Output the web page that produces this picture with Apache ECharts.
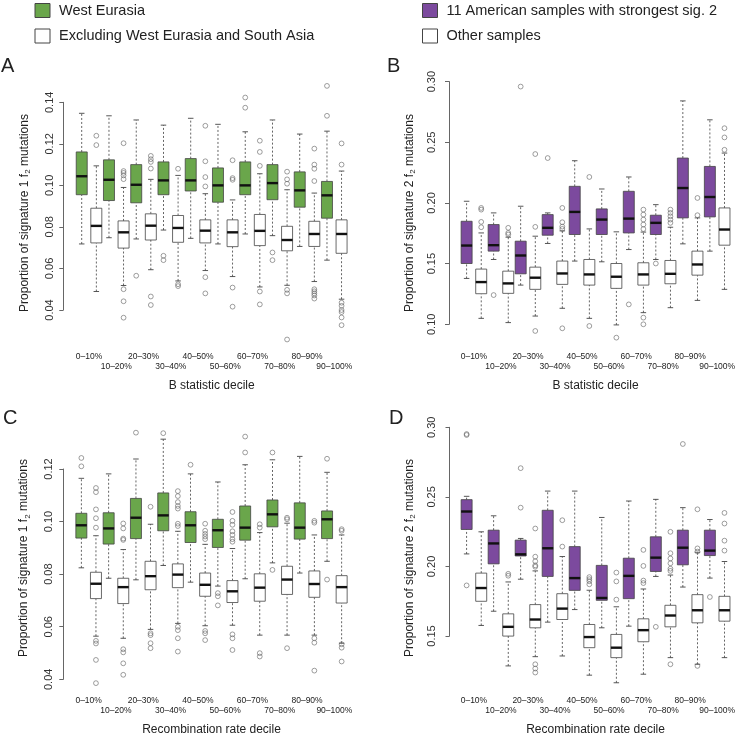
<!DOCTYPE html>
<html>
<head>
<meta charset="utf-8">
<script src="https://cdn.jsdelivr.net/npm/echarts@6/dist/echarts.min.js"></script>
<style>
  html, body { margin: 0; padding: 0; background: #fff; }
  #chart { width: 738px; height: 737px; }
</style>
</head>
<body>
<div id="chart"></div>
<script>
const deciles = ["0–10%", "10–20%", "20–30%", "30–40%", "40–50%", "50–60%", "60–70%", "70–80%", "80–90%", "90–100%"];

// each box: [lower whisker, Q1, median, Q3, upper whisker]
// A: signature 1, B statistic decile
const aGreenStats = [
  [0.0718, 0.0955, 0.1044, 0.1161, 0.1347], [0.0748, 0.0927, 0.1027, 0.1123, 0.1335],
  [0.0742, 0.0916, 0.1003, 0.1100, 0.1315], [0.0785, 0.0955, 0.1024, 0.1113, 0.1290],
  [0.0745, 0.0973, 0.1024, 0.1129, 0.1323], [0.0718, 0.0919, 0.1000, 0.1084, 0.1294],
  [0.0766, 0.0955, 0.1000, 0.1113, 0.1258], [0.0758, 0.0931, 0.1011, 0.1100, 0.1315],
  [0.0706, 0.0895, 0.0976, 0.1065, 0.1247], [0.0640, 0.0842, 0.0952, 0.1019, 0.1261]
];
const aGreenOut = [[], [], [0.0565], [0.0661, 0.0640], [], [], [0.1423, 0.1374], [0.0677, 0.0640], [], [0.1479, 0.1335]];
const aWhiteStats = [
  [0.0489, 0.0723, 0.0805, 0.0890, 0.1094], [0.0518, 0.0698, 0.0774, 0.0829, 0.0990],
  [0.0594, 0.0737, 0.0806, 0.0863, 0.1029], [0.0540, 0.0726, 0.0795, 0.0855, 0.1048],
  [0.0590, 0.0723, 0.0782, 0.0834, 0.0960], [0.0561, 0.0705, 0.0774, 0.0834, 0.0930],
  [0.0511, 0.0710, 0.0781, 0.0860, 0.1056], [0.0519, 0.0685, 0.0737, 0.0803, 0.0979],
  [0.0537, 0.0706, 0.0766, 0.0827, 0.0963], [0.0452, 0.0673, 0.0766, 0.0834, 0.1069]
];
const aWhiteOut = [
  [0.1239, 0.1194],
  [0.1203, 0.1069, 0.1060, 0.1048, 0.1030, 0.0500, 0.0442, 0.0363],
  [0.1142, 0.1126, 0.1113, 0.1081, 0.0465, 0.0424],
  [0.1080, 0.0524, 0.0515],
  [0.1287, 0.1116, 0.1040, 0.0995, 0.0558, 0.0480],
  [0.1121, 0.1035, 0.1027, 0.0508, 0.0416],
  [0.1215, 0.1161, 0.1094, 0.0489, 0.0427],
  [0.1066, 0.1029, 0.1008, 0.0497, 0.0480, 0.0258],
  [0.1177, 0.1100, 0.1080, 0.1021, 0.0500, 0.0490, 0.0480, 0.0470, 0.0455],
  [0.1202, 0.1100, 0.0435, 0.0420, 0.0400, 0.0390, 0.0364, 0.0327]
];

// B: signature 2, B statistic decile
const bPurpleStats = [
  [0.1378, 0.1501, 0.1649, 0.1849, 0.2014], [0.1534, 0.1603, 0.1652, 0.1822, 0.1918],
  [0.1323, 0.1416, 0.1567, 0.1685, 0.1973], [0.1666, 0.1734, 0.1795, 0.1904, 0.1918],
  [0.1521, 0.1740, 0.1926, 0.2137, 0.2348], [0.1515, 0.1740, 0.1863, 0.1951, 0.2115],
  [0.1616, 0.1753, 0.1871, 0.2096, 0.2214], [0.1534, 0.1740, 0.1836, 0.1899, 0.1986],
  [0.1663, 0.1877, 0.2123, 0.2370, 0.2841], [0.1603, 0.1885, 0.2049, 0.2301, 0.2685]
];
const bPurpleOut = [[], [0.1241], [0.2959], [0.2370], [], [], [0.1164], [0.1501], [], []];
const bWhiteStats = [
  [0.1049, 0.1252, 0.1348, 0.1455, 0.1753], [0.1014, 0.1255, 0.1337, 0.1438, 0.1718],
  [0.1068, 0.1288, 0.1384, 0.1471, 0.1726], [0.1132, 0.1329, 0.1419, 0.1521, 0.1770],
  [0.1049, 0.1323, 0.1411, 0.1534, 0.1786], [0.0995, 0.1296, 0.1392, 0.1501, 0.1762],
  [0.1096, 0.1323, 0.1411, 0.1507, 0.1760], [0.1137, 0.1334, 0.1416, 0.1526, 0.1800],
  [0.1197, 0.1405, 0.1493, 0.1603, 0.1877], [0.1288, 0.1652, 0.1781, 0.1959, 0.2411]
];
const bWhiteOut = [
  [0.1959, 0.1945, 0.1844, 0.1800],
  [0.1795, 0.1753, 0.1740],
  [0.2403, 0.1803, 0.0945],
  [0.1959, 0.1841, 0.1805, 0.1786, 0.0967],
  [0.2214, 0.0986],
  [0.0890],
  [0.1945, 0.1904, 0.1863, 0.1822, 0.1785, 0.1055, 0.1000],
  [0.1945, 0.1918, 0.1890, 0.1863, 0.1836],
  [0.2041, 0.1899],
  [0.2616, 0.2540, 0.2438]
];

// C: signature 1, recombination rate decile
const cGreenStats = [
  [0.0820, 0.0934, 0.0983, 0.1029, 0.1163], [0.0780, 0.0911, 0.0971, 0.1031, 0.1180],
  [0.0774, 0.0932, 0.1012, 0.1086, 0.1237], [0.0829, 0.0962, 0.1021, 0.1107, 0.1313],
  [0.0765, 0.0917, 0.0983, 0.1035, 0.1180], [0.0750, 0.0898, 0.0964, 0.1006, 0.1149],
  [0.0778, 0.0926, 0.0974, 0.1057, 0.1215], [0.0839, 0.0977, 0.1025, 0.1080, 0.1234],
  [0.0800, 0.0930, 0.0974, 0.1069, 0.1247], [0.0845, 0.0932, 0.1006, 0.1038, 0.1186]
];
const cGreenOut = [[0.1241, 0.1209], [], [0.1338], [0.1336], [0.1215], [0.0723, 0.0711, 0.0676], [0.1323, 0.1262], [0.1262, 0.0812], [], [0.1238, 0.0775]];
const cWhiteStats = [
  [0.0558, 0.0702, 0.0759, 0.0803, 0.0943], [0.0550, 0.0683, 0.0746, 0.0780, 0.0890],
  [0.0584, 0.0736, 0.0788, 0.0845, 0.0987], [0.0607, 0.0744, 0.0794, 0.0835, 0.0960],
  [0.0598, 0.0711, 0.0755, 0.0800, 0.0910], [0.0600, 0.0687, 0.0730, 0.0771, 0.0894],
  [0.0562, 0.0692, 0.0744, 0.0797, 0.0955], [0.0562, 0.0718, 0.0775, 0.0826, 0.0991],
  [0.0562, 0.0707, 0.0758, 0.0808, 0.0946], [0.0531, 0.0685, 0.0746, 0.0790, 0.0946]
];
const cWhiteOut = [
  [0.1126, 0.1110, 0.1044, 0.1010, 0.0974, 0.0540, 0.0530, 0.0467, 0.0378],
  [0.0990, 0.0971, 0.0932, 0.0927, 0.0508, 0.0496, 0.0454, 0.0410],
  [0.1054, 0.0569, 0.0562, 0.0531, 0.0512],
  [0.1114, 0.1095, 0.1072, 0.1057, 0.1047, 0.0989, 0.0980, 0.0594, 0.0581, 0.0550, 0.0499],
  [0.0989, 0.0962, 0.0950, 0.0940, 0.0930, 0.0578, 0.0569, 0.0543],
  [0.1034, 0.1000, 0.0985, 0.0960, 0.0946, 0.0930, 0.0920, 0.0565, 0.0550, 0.0505],
  [0.0987, 0.0974, 0.0493, 0.0480],
  [0.1012, 0.1006, 0.0512],
  [0.1000, 0.0993, 0.0550, 0.0533, 0.0426],
  [0.0968, 0.0962, 0.0527, 0.0514, 0.0461]
];

// D: signature 2, recombination rate decile
const dPurpleStats = [
  [0.2083, 0.2260, 0.2390, 0.2476, 0.2500], [0.1668, 0.2011, 0.2159, 0.2255, 0.2359],
  [0.1900, 0.2068, 0.2080, 0.2183, 0.2195], [0.1589, 0.1920, 0.2124, 0.2399, 0.2538],
  [0.1680, 0.1819, 0.1908, 0.2136, 0.2538], [0.1548, 0.1747, 0.1764, 0.2000, 0.2347],
  [0.1560, 0.1759, 0.1924, 0.2052, 0.2466], [0.1920, 0.1956, 0.2056, 0.2207, 0.2478],
  [0.1843, 0.2004, 0.2128, 0.2255, 0.2418], [0.1908, 0.2071, 0.2107, 0.2255, 0.2332]
];
const dPurpleOut = [[0.2951, 0.2944, 0.1855], [], [0.2704, 0.2418], [], [], [], [], [0.1555], [0.2879], [0.1771]];
const dWhiteStats = [
  [0.1565, 0.1740, 0.1836, 0.1944, 0.2243], [0.1272, 0.1488, 0.1555, 0.1649, 0.1880],
  [0.1339, 0.1548, 0.1608, 0.1716, 0.1960], [0.1344, 0.1608, 0.1687, 0.1795, 0.2064],
  [0.1205, 0.1404, 0.1481, 0.1572, 0.1820], [0.1150, 0.1332, 0.1404, 0.1500, 0.1700],
  [0.1212, 0.1447, 0.1531, 0.1613, 0.1829], [0.1332, 0.1555, 0.1637, 0.1711, 0.1930],
  [0.1284, 0.1584, 0.1675, 0.1788, 0.2095], [0.1332, 0.1596, 0.1675, 0.1776, 0.2028]
];
const dWhiteOut = [
  [],
  [0.1939, 0.1925],
  [0.2267, 0.2063, 0.2030, 0.2000, 0.1990, 0.1284, 0.1253, 0.1224],
  [0.2327, 0.2136],
  [0.1915, 0.1900, 0.1885, 0.1863],
  [0.1948, 0.1884, 0.1752],
  [0.2112, 0.1996, 0.1890, 0.1872],
  [0.2243, 0.2088, 0.2050, 0.2015, 0.1976, 0.1960, 0.1284],
  [0.2406, 0.2123, 0.2100, 0.1272],
  [0.2380, 0.2303, 0.2179, 0.2107]
];

const WEST = "West Eurasia";
const EXCL = "Excluding West Eurasia and South Asia";
const AMER = "11 American samples with strongest sig. 2";
const OTHER = "Other samples";

const GREEN = "#6aa64b";
const PURPLE = "#7c4a9e";
const FONT = "Liberation Sans, Arial, sans-serif";

const panels = [
  { letter: "A", sig: 1, xTitle: "B statistic decile", stats: [aGreenStats, aWhiteStats], outs: [aGreenOut, aWhiteOut],
    names: [WEST, EXCL], fills: [GREEN, "#fff"], ticks: [0.04, 0.14, 0.02],
    lay: { axisX: 63.3, tickTop: 102.3, tickBottom: 310, left: 75.4, width: 272.5, top: 78, bottom: 348, margin: 8, lx: 1, ly: 56 } },
  { letter: "B", sig: 2, xTitle: "B statistic decile", stats: [bPurpleStats, bWhiteStats], outs: [bPurpleOut, bWhiteOut],
    names: [AMER, OTHER], fills: [PURPLE, "#fff"], ticks: [0.10, 0.30, 0.05],
    lay: { axisX: 449, tickTop: 81.6, tickBottom: 324.3, left: 460.4, width: 273, top: 78, bottom: 348, margin: 12, lx: 387, ly: 56 } },
  { letter: "C", sig: 1, xTitle: "Recombination rate decile", stats: [cGreenStats, cWhiteStats], outs: [cGreenOut, cWhiteOut],
    names: [WEST, EXCL], fills: [GREEN, "#fff"], ticks: [0.04, 0.12, 0.02],
    lay: { axisX: 63.3, tickTop: 469, tickBottom: 679.3, left: 75, width: 273, top: 424, bottom: 694, margin: 9, lx: 3, ly: 408 } },
  { letter: "D", sig: 2, xTitle: "Recombination rate decile", stats: [dPurpleStats, dWhiteStats], outs: [dPurpleOut, dWhiteOut],
    names: [AMER, OTHER], fills: [PURPLE, "#fff"], ticks: [0.15, 0.30, 0.05],
    lay: { axisX: 449.5, tickTop: 427.3, tickBottom: 636, left: 460.4, width: 273, top: 424, bottom: 694, margin: 12, lx: 389, ly: 408 } }
];

const BOX_W = 11;
const CAP_W = 5.5;
const OFFSETS = [-7.3, 7.3];

function renderBox(offset, fill) {
  return (params, api) => {
    const i = api.value(0);
    const p = [1, 2, 3, 4, 5].map(k => api.coord([i, api.value(k)]));
    const x = p[0][0] + offset;
    const dash = { stroke: "#555", lineWidth: 0.9, lineDash: [2, 2] };
    const solid = { stroke: "#444", lineWidth: 0.9 };
    return {
      type: "group",
      children: [
        { type: "line", shape: { x1: x, y1: p[0][1], x2: x, y2: p[1][1] }, style: dash },
        { type: "line", shape: { x1: x, y1: p[3][1], x2: x, y2: p[4][1] }, style: dash },
        { type: "line", shape: { x1: x - CAP_W / 2, y1: p[0][1], x2: x + CAP_W / 2, y2: p[0][1] }, style: solid },
        { type: "line", shape: { x1: x - CAP_W / 2, y1: p[4][1], x2: x + CAP_W / 2, y2: p[4][1] }, style: solid },
        { type: "rect", shape: { x: x - BOX_W / 2, y: p[3][1], width: BOX_W, height: p[1][1] - p[3][1] },
          style: { fill, stroke: "#444", lineWidth: 0.8 } },
        { type: "line", shape: { x1: x - BOX_W / 2, y1: p[2][1], x2: x + BOX_W / 2, y2: p[2][1] },
          style: { stroke: "#111", lineWidth: 2.4 } }
      ]
    };
  };
}

const grid = [], xAxis = [], yAxis = [], series = [], title = [];

panels.forEach((pn, k) => {
  const L = pn.lay;
  const [tMin, tMax, step] = pn.ticks;
  const ppu = (L.tickBottom - L.tickTop) / (tMax - tMin);
  const dataMin = tMin - (L.bottom - L.tickBottom) / ppu;
  const dataMax = tMax + (L.tickTop - L.top) / ppu;
  const ai = 2 * k, di = 2 * k + 1;

  // visible R-style y axis, spanning only the tick range
  grid.push({ left: L.axisX, top: L.tickTop, width: 10, height: L.tickBottom - L.tickTop });
  xAxis.push({ gridIndex: ai, type: "value", show: false });
  yAxis.push({
    gridIndex: ai, type: "value", min: tMin, max: tMax, interval: step,
    axisLine: { show: true, lineStyle: { color: "#666", width: 1 } },
    axisTick: { show: true, length: 4, lineStyle: { color: "#666" } },
    axisLabel: { rotate: 90, fontSize: 11, color: "#333", margin: L.margin, fontFamily: FONT, formatter: v => v.toFixed(2) },
    splitLine: { show: false }
  });

  // data grid
  grid.push({ left: L.left, top: L.top, width: L.width, height: L.bottom - L.top });
  xAxis.push({
    gridIndex: di, type: "category", data: deciles,
    axisLine: { show: false }, axisTick: { show: false },
    axisLabel: { interval: 0, fontSize: 8.5, lineHeight: 10, margin: 4, color: "#222", fontFamily: FONT,
      formatter: (v, i) => (i % 2 ? "\n" + v : v) },
    name: pn.xTitle, nameLocation: "middle", nameGap: 32,
    nameTextStyle: { fontSize: 12, color: "#222", fontFamily: FONT }
  });
  yAxis.push({
    gridIndex: di, type: "value", min: dataMin, max: dataMax,
    axisLine: { show: false }, axisTick: { show: false }, axisLabel: { show: false }, splitLine: { show: false },
    name: `{t|Proportion of signature ${pn.sig} f}{s|2}{t| mutations}`,
    nameLocation: "middle", nameRotate: 90, nameGap: 43.5,
    nameTextStyle: {
      color: "#222", fontFamily: FONT,
      rich: {
        t: { fontSize: 12, lineHeight: 15, color: "#222", fontFamily: FONT },
        s: { fontSize: 8, lineHeight: 8, verticalAlign: "bottom", color: "#222", fontFamily: FONT }
      }
    }
  });

  pn.stats.forEach((stats, g) => {
    series.push({
      type: "custom", name: pn.names[g], xAxisIndex: di, yAxisIndex: di,
      encode: { x: 0, y: [1, 2, 3, 4, 5] },
      data: stats.map((s, i) => [i, ...s]),
      renderItem: renderBox(OFFSETS[g], pn.fills[g]),
      silent: true
    });
    series.push({
      type: "scatter", name: pn.names[g] + " outliers", xAxisIndex: di, yAxisIndex: di,
      data: pn.outs[g].flatMap((vals, i) => vals.map(v => [i, v])),
      symbol: "circle", symbolSize: 4.8, symbolOffset: [OFFSETS[g], 0], clip: false,
      itemStyle: { color: "rgba(0,0,0,0)", borderColor: "#666", borderWidth: 0.8 },
      silent: true
    });
  });

  title.push({ text: pn.letter, left: L.lx, top: L.ly, padding: 0,
    textStyle: { fontSize: 20, fontWeight: "normal", color: "#222", fontFamily: FONT } });
});

const legendBase = {
  orient: "vertical", top: 3, padding: 0, itemWidth: 15, itemHeight: 14, itemGap: 10.5,
  selectedMode: false, icon: "rect",
  textStyle: { fontSize: 14.5, color: "#222", fontFamily: FONT, padding: [0, 0, 0, 4] }
};

const chart = echarts.init(document.getElementById("chart"), null, { renderer: "canvas" });
chart.setOption({
  animation: false,
  backgroundColor: "#fff",
  textStyle: { fontFamily: FONT },
  title,
  legend: [
    { ...legendBase, left: 34.5, data: [
      { name: WEST, itemStyle: { color: GREEN, borderColor: "#444", borderWidth: 1 } },
      { name: EXCL, itemStyle: { color: "#fff", borderColor: "#444", borderWidth: 1 } }
    ] },
    { ...legendBase, left: 422, data: [
      { name: AMER, itemStyle: { color: PURPLE, borderColor: "#444", borderWidth: 1 } },
      { name: OTHER, itemStyle: { color: "#fff", borderColor: "#444", borderWidth: 1 } }
    ] }
  ],
  grid, xAxis, yAxis, series
});
</script>
</body>
</html>
